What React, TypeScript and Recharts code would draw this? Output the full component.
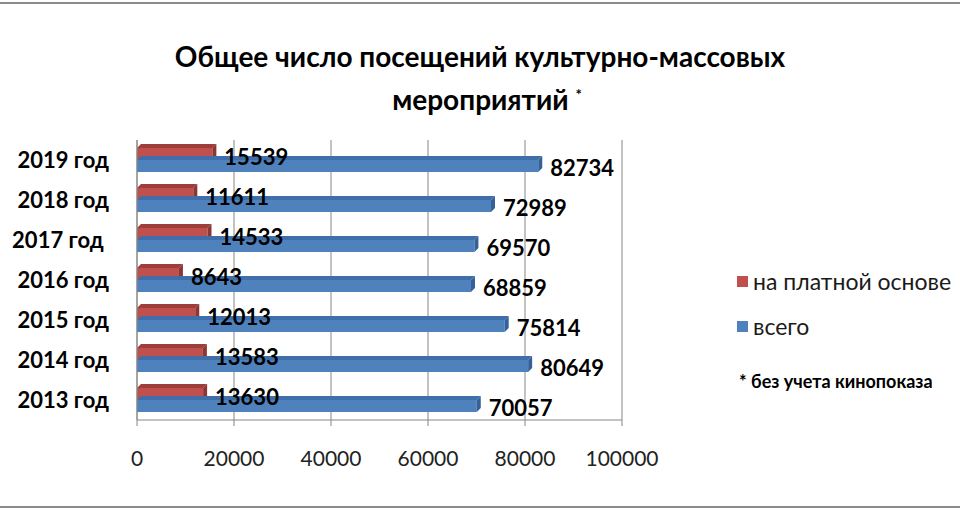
import React from 'react';
import {
  BarChart,
  Bar,
  XAxis,
  YAxis,
  CartesianGrid,
  LabelList
} from 'recharts';

const years = ['2019 год', '2018 год', '2017 год\u00a0', '2016 год', '2015 год', '2014 год', '2013 год'];
const paid = [15539, 11611, 14533, 8643, 12013, 13583, 13630];
const total = [82734, 72989, 69570, 68859, 75814, 80649, 70057];
const xTicks = [0, 20000, 40000, 60000, 80000, 100000];
const seriesNames = ['на платной основе', 'всего'];

const data = years.map((year, i) => ({ year, paid: paid[i], total: total[i] }));

const RED = '#C0504D';
const BLUE = '#4F81BD';
const FONT = 'Lato, "Open Sans", sans-serif';

// flat bar with a little 3d top and end face
const Bar3D = (props: any) => {
  const { x, y, width, height, fill, top, side } = props;
  if (!width || width <= 0) return null;
  const d = 4;
  return (
    <g>
      <rect x={x} y={y} width={width} height={height} fill={fill} />
      <polygon
        points={`${x},${y} ${x + d},${y - d} ${x + width + d},${y - d} ${x + width},${y}`}
        fill={top}
      />
      <polygon
        points={`${x + width},${y} ${x + width + d},${y - d} ${x + width + d},${y + height - d} ${x + width},${y + height}`}
        fill={side}
      />
    </g>
  );
};

const App: React.FC = () => {
  const legendColors = [RED, BLUE];
  return (
    <div style={{ position: 'absolute', left: 0, top: 0, width: 960, height: 510, background: '#fff', fontFamily: FONT }}>
      <div style={{ position: 'absolute', left: 0, top: 2, width: 960, height: 2, background: '#8a8a8a' }} />
      <div style={{ position: 'absolute', left: 0, top: 506, width: 960, height: 2, background: '#8a8a8a' }} />

      <div style={{ position: 'absolute', left: 0, width: 960, top: 37, textAlign: 'center', fontSize: 28, fontWeight: 700, color: '#000', lineHeight: '38px' }}>
        <div>Общее число посещений культурно-массовых</div>
        <div style={{ paddingLeft: 14 }}>
          мероприятий <span style={{ fontSize: 15, verticalAlign: 'super' }}>*</span>
        </div>
      </div>

      <div style={{ position: 'absolute', left: 737, top: 265 }}>
        {seriesNames.map((name, i) => (
          <div key={name} style={{ display: 'flex', alignItems: 'center', height: 32, marginBottom: 13 }}>
            <span style={{ width: 11, height: 11, background: legendColors[i], marginRight: 5, display: 'inline-block' }} />
            <span style={{ fontSize: 23, color: '#1a1a1a', whiteSpace: 'nowrap' }}>{name}</span>
          </div>
        ))}
      </div>

      <div style={{ position: 'absolute', left: 739, top: 370, fontSize: 18, fontWeight: 700, color: '#000', whiteSpace: 'nowrap' }}>
        * без учета кинопоказа
      </div>

      <div style={{ position: 'absolute', left: 0, top: 0 }}>
        <BarChart
          width={960}
          height={510}
          data={data}
          layout="vertical"
          margin={{ top: 140, right: 338, bottom: 30, left: 0 }}
          barSize={12}
          barGap={0}
        >
          <CartesianGrid horizontal={false} stroke="#868686" />
          <XAxis
            type="number"
            domain={[0, 100000]}
            ticks={xTicks}
            interval={0}
            height={60}
            tickSize={6}
            tickMargin={25}
            axisLine={{ stroke: '#868686' }}
            tickLine={{ stroke: '#868686' }}
            tick={{ fontSize: 21, fill: '#222', fontFamily: FONT }}
          />
          <YAxis
            type="category"
            dataKey="year"
            width={137}
            tickLine={false}
            tickMargin={22}
            axisLine={{ stroke: '#868686' }}
            tick={{ fontSize: 22, fontWeight: 700, fill: '#000', fontFamily: FONT }}
          />
          <Bar
            dataKey="paid"
            name={seriesNames[0]}
            fill={RED}
            isAnimationActive={false}
            shape={<Bar3D top="#9E3E3B" side="#8C3633" />}
          >
            <LabelList dataKey="paid" position="right" offset={12} dy={3} fontSize={22} fontWeight={700} fill="#000" fontFamily={FONT} />
          </Bar>
          <Bar
            dataKey="total"
            name={seriesNames[1]}
            fill={BLUE}
            isAnimationActive={false}
            shape={<Bar3D top="#3F6EA8" side="#34619A" />}
          >
            <LabelList dataKey="total" position="right" offset={12} dy={2} fontSize={22} fontWeight={700} fill="#000" fontFamily={FONT} />
          </Bar>
        </BarChart>
      </div>
    </div>
  );
};

export default App;
